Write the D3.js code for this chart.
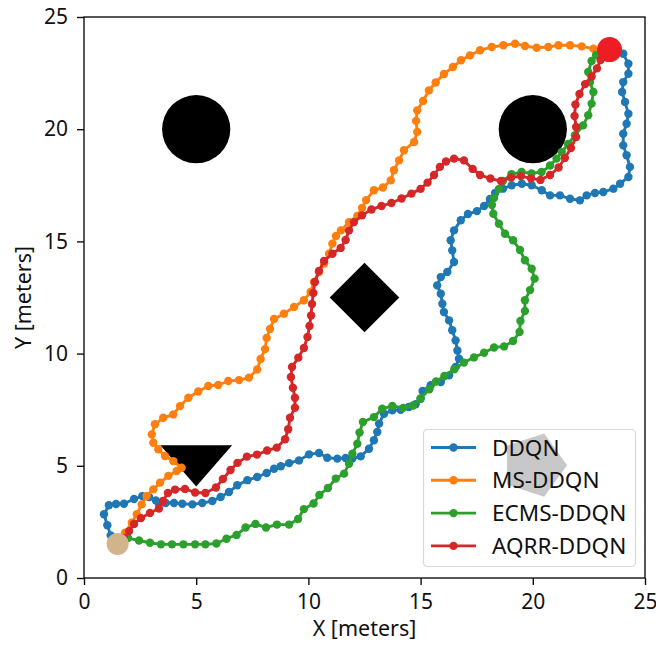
<!DOCTYPE html>
<html>
<head>
<meta charset="utf-8">
<script src="https://cdn.jsdelivr.net/npm/d3@7"></script>
<style>
  body { margin: 0; background: #fff; }
  text { font-family: "Noto Sans", sans-serif; fill: #111; }
</style>
</head>
<body>
<svg id="chart" width="656" height="646"></svg>
<script>
// series names / colours
const seriesNames = ["DDQN", "MS-DDQN", "ECMS-DDQN", "AQRR-DDQN"];
const seriesColors = ["#1f77b4", "#ff7f0e", "#2ca02c", "#d62728"];

// trajectories, [x, y] in meters
const ddqn = [
  [1.5,1.52],[1.19,1.9],[1.04,2.35],[0.89,2.84],[1.11,3.24],[1.43,3.3],[1.78,3.31],[2.23,3.52],
  [2.6,3.65],[2.9,3.61],[3.2,3.46],[3.34,3.31],[3.64,3.34],[4.01,3.34],[4.38,3.31],[4.83,3.28],
  [5.27,3.34],[5.72,3.43],[6.09,3.61],[6.46,3.83],[6.83,4.13],[7.28,4.36],[7.72,4.5],[8.14,4.68],
  [8.47,4.87],[8.77,4.98],[9.14,5.12],[9.58,5.24],[10.03,5.51],[10.47,5.57],[10.84,5.36],[11.29,5.32],
  [11.66,5.35],[11.96,5.32],[12.33,5.42],[12.7,5.76],[12.92,6.14],[13.07,6.51],[13.15,6.88],[13.37,7.32],
  [13.74,7.47],[14.11,7.5],[14.48,7.62],[14.78,7.74],[15.0,7.99],[15.09,8.33],[15.45,8.59],[15.9,8.73],
  [16.27,9.03],[16.56,9.4],[16.71,9.77],[16.64,10.14],[16.56,10.59],[16.41,11.04],[16.27,11.48],[16.04,11.85],
  [15.97,12.22],[15.9,12.67],[15.74,13.04],[15.9,13.41],[16.19,13.64],[16.49,14.08],[16.41,14.6],[16.34,15.05],
  [16.49,15.49],[16.79,15.94],[17.11,16.22],[17.51,16.35],[17.83,16.58],[18.09,16.89],[18.32,17.16],[18.67,17.35],
  [19.06,17.5],[19.51,17.57],[19.95,17.5],[20.4,17.28],[20.77,17.05],[21.21,17.05],[21.66,16.9],[22.1,16.83],
  [22.4,17.05],[22.77,17.16],[23.14,17.2],[23.59,17.35],[23.89,17.57],[24.26,17.87],[24.33,18.32],[24.18,18.84],
  [24.03,19.28],[24.03,19.8],[24.18,20.24],[24.26,20.69],[24.11,21.21],[23.98,21.66],[24.03,22.1],[24.26,22.47],
  [24.26,22.92],[24.03,23.36],[23.53,23.53]
];
const msDdqn = [
  [1.5,1.52],[1.65,1.78],[1.83,2.02],[2.13,2.46],[2.35,2.84],[2.57,3.28],[2.79,3.65],[3.09,3.95],
  [3.39,4.25],[3.76,4.55],[4.13,4.77],[4.35,4.91],[3.98,5.21],[3.61,5.44],[3.31,5.74],[3.09,6.03],
  [3.02,6.4],[3.16,6.85],[3.53,7.14],[3.98,7.29],[4.28,7.66],[4.65,8.03],[5.09,8.31],[5.54,8.56],
  [5.98,8.6],[6.43,8.78],[6.91,8.82],[7.35,8.93],[7.72,9.29],[7.87,9.76],[8.07,10.2],[8.14,10.7],
  [8.29,11.1],[8.47,11.54],[8.91,11.78],[9.36,12.08],[9.8,12.38],[10.1,12.75],[10.25,13.19],[10.47,13.64],
  [10.7,14.01],[10.92,14.45],[11.07,14.9],[11.23,15.24],[11.45,15.49],[11.81,15.86],[12.18,16.13],[12.39,16.49],
  [12.57,16.84],[12.92,17.28],[13.32,17.4],[13.67,17.72],[13.81,18.17],[14.04,18.61],[14.26,19.06],[14.71,19.43],
  [14.85,19.88],[14.8,20.37],[14.85,20.84],[15.11,21.26],[15.37,21.73],[15.67,22.08],[16.04,22.46],[16.44,22.77],
  [16.8,23.07],[17.2,23.29],[17.65,23.52],[18.17,23.66],[18.69,23.74],[19.21,23.81],[19.65,23.71],[20.17,23.63],
  [20.69,23.66],[21.14,23.74],[21.66,23.74],[22.18,23.69],[22.7,23.59],[23.13,23.53]
];
const ecmsDdqn = [
  [1.5,1.52],[1.96,1.78],[2.45,1.67],[2.94,1.57],[3.43,1.5],[3.92,1.5],[4.43,1.5],[4.95,1.5],
  [5.41,1.5],[5.9,1.54],[6.35,1.75],[6.8,1.92],[7.2,2.25],[7.64,2.41],[8.11,2.25],[8.6,2.38],
  [9.14,2.38],[9.54,2.63],[9.8,3.07],[10.23,3.32],[10.49,3.7],[10.87,4.01],[11.22,4.43],[11.59,4.65],
  [11.81,5.09],[11.96,5.54],[12.18,5.98],[12.28,6.48],[12.43,6.95],[12.92,7.17],[13.29,7.54],[13.74,7.67],
  [14.22,7.58],[14.66,7.69],[15.0,8.0],[15.39,8.41],[15.69,8.76],[16.06,9.0],[16.5,9.3],[16.93,9.6],
  [17.38,9.83],[17.83,10.04],[18.27,10.27],[18.72,10.32],[19.12,10.56],[19.41,10.96],[19.45,11.45],[19.65,11.9],
  [19.65,12.38],[19.88,12.83],[20.08,13.34],[19.95,13.78],[19.65,14.16],[19.43,14.62],[19.12,15.05],[18.76,15.34],
  [18.49,15.79],[18.24,16.23],[18.18,16.62],[18.27,16.93],[18.49,17.34],[18.67,17.69],[19.05,18.0],[19.5,18.09],
  [19.94,18.03],[20.39,18.09],[20.77,18.38],[21.06,18.69],[21.29,18.98],[21.57,19.34],[21.88,19.73],[22.24,20.17],
  [22.47,20.62],[22.62,21.14],[22.7,21.66],[22.55,22.1],[22.47,22.55],[22.62,23.04],[22.82,23.31]
];
const aqrrDdqn = [
  [1.5,1.52],[1.78,1.78],[2.01,2.09],[2.23,2.41],[2.54,2.67],[2.94,2.9],[3.34,3.1],[3.52,3.43],
  [3.74,3.79],[4.06,3.94],[4.5,3.97],[4.95,3.81],[5.41,3.79],[5.88,4.03],[6.19,4.41],[6.53,4.81],
  [6.84,5.13],[7.26,5.41],[7.71,5.5],[8.16,5.68],[8.59,5.81],[8.96,6.18],[9.1,6.63],[9.18,7.14],
  [9.4,7.59],[9.4,8.03],[9.31,8.48],[9.22,8.96],[9.27,9.4],[9.55,9.82],[9.8,10.25],[9.96,10.74],
  [10.05,11.23],[10.12,11.7],[10.16,12.21],[10.22,12.7],[10.29,13.19],[10.47,13.68],[10.7,14.13],[11.07,14.45],
  [11.44,14.71],[11.66,15.06],[11.81,15.49],[12.03,15.86],[12.39,16.16],[12.81,16.42],[13.26,16.58],[13.7,16.71],
  [14.15,16.91],[14.59,17.13],[15.0,17.34],[15.31,17.62],[15.6,17.96],[15.86,18.32],[16.13,18.56],[16.49,18.69],
  [16.93,18.61],[17.32,18.23],[17.65,17.96],[18.11,17.8],[18.58,17.69],[19.03,17.85],[19.47,17.91],[19.92,17.81],
  [20.34,17.74],[20.77,17.96],[21.15,18.29],[21.43,18.72],[21.7,19.16],[21.93,19.65],[21.93,20.1],[21.86,20.59],
  [21.9,21.1],[22.08,21.57],[22.33,22.01],[22.62,22.35],[22.86,22.71],[23.02,23.08],[23.26,23.44]
];
const trajectories = [ddqn, msDdqn, ecmsDdqn, aqrrDdqn];

// start / goal, obstacles (meters)
const startPoint = [1.5, 1.52];
const goalPoint = [23.42, 23.55];
const circleObstacles = [[5, 20, 1.52], [20, 20, 1.52]];   // cx, cy, r
const diamondObstacle = [12.5, 12.5, 1.55];                // cx, cy, half diagonal
const triangleObstacle = [5, 5, 1.6, 0.92];                // cx, cy, half width, half height
const pentagonObstacle = [20.05, 5.03, 1.48];              // cx, cy, radius

const xTicks = [0, 5, 10, 15, 20, 25];
const yTicks = [0, 5, 10, 15, 20, 25];

const svg = d3.select("#chart");
const x = d3.scaleLinear().domain([0, 25]).range([84, 645]);
const y = d3.scaleLinear().domain([0, 25]).range([578, 17]);

svg.append("defs").append("clipPath").attr("id", "plot-clip")
  .append("rect").attr("x", 84).attr("y", 17).attr("width", 561).attr("height", 561);

const plot = svg.append("g").attr("clip-path", "url(#plot-clip)");

// obstacles
plot.selectAll("circle.obs").data(circleObstacles).join("circle")
  .attr("class", "obs")
  .attr("cx", d => x(d[0])).attr("cy", d => y(d[1]))
  .attr("r", d => x(d[2]) - x(0))
  .attr("fill", "#000");

const [dx, dy, dr] = diamondObstacle;
plot.append("polygon")
  .attr("points", [[dx - dr, dy], [dx, dy + dr], [dx + dr, dy], [dx, dy - dr]]
    .map(p => x(p[0]) + "," + y(p[1])).join(" "))
  .attr("fill", "#000");

const [tx, ty, tw, th] = triangleObstacle;
plot.append("polygon")
  .attr("points", [[tx - tw, ty + th], [tx + tw, ty + th], [tx, ty - th]]
    .map(p => x(p[0]) + "," + y(p[1])).join(" "))
  .attr("fill", "#000");

// trajectories
const line = d3.line().x(d => x(d[0])).y(d => y(d[1]));
trajectories.forEach((pts, i) => {
  const g = plot.append("g");
  g.append("path").datum(pts)
    .attr("d", line)
    .attr("fill", "none")
    .attr("stroke", seriesColors[i])
    .attr("stroke-width", 2.9)
    .attr("stroke-linejoin", "round");
  g.selectAll("circle").data(pts).join("circle")
    .attr("cx", d => x(d[0])).attr("cy", d => y(d[1]))
    .attr("r", 4.2)
    .attr("fill", seriesColors[i]);
});

// start and goal
plot.append("circle")
  .attr("cx", x(startPoint[0])).attr("cy", y(startPoint[1]))
  .attr("r", 11).attr("fill", "#d2b48c");
plot.append("circle")
  .attr("cx", x(goalPoint[0])).attr("cy", y(goalPoint[1]))
  .attr("r", 12.5).attr("fill", "#ee1d23");

// frame
svg.append("rect")
  .attr("x", 84).attr("y", 17).attr("width", 561).attr("height", 561)
  .attr("fill", "none").attr("stroke", "#111").attr("stroke-width", 1.4);

// axes
const xAxis = svg.append("g").attr("transform", "translate(0,578)")
  .call(d3.axisBottom(x).tickValues(xTicks).tickSize(7).tickPadding(9).tickFormat(d3.format("d")));
const yAxis = svg.append("g").attr("transform", "translate(84,0)")
  .call(d3.axisLeft(y).tickValues(yTicks).tickSize(7).tickPadding(9).tickFormat(d3.format("d")));
[xAxis, yAxis].forEach(a => {
  a.select(".domain").remove();
  a.selectAll(".tick line").attr("stroke", "#111").attr("stroke-width", 1.4);
  a.selectAll(".tick text").attr("font-size", 21).attr("font-family", "Noto Sans").attr("fill", "#111");
});

svg.append("text")
  .attr("x", x(12.5)).attr("y", 636)
  .attr("text-anchor", "middle").attr("font-size", 21.5)
  .text("X [meters]");
svg.append("text")
  .attr("transform", `translate(31,${y(12.5)}) rotate(-90)`)
  .attr("text-anchor", "middle").attr("font-size", 21.5)
  .text("Y [meters]");

// legend
const legend = svg.append("g");
legend.append("rect")
  .attr("x", 423.5).attr("y", 429.5).attr("width", 212).attr("height", 137)
  .attr("rx", 4)
  .attr("fill", "#fff").attr("fill-opacity", 0.8)
  .attr("stroke", "#d8d8d8").attr("stroke-width", 1.2);

// grey pentagon sits behind the legend text
const [px, py, pr] = pentagonObstacle;
legend.append("polygon")
  .attr("points", d3.range(5).map(k => {
      const a = k * 2 * Math.PI / 5;
      return x(px + pr * Math.cos(a)) + "," + y(py + pr * Math.sin(a));
    }).join(" "))
  .attr("fill", "#c8c8c8");

seriesNames.forEach((name, i) => {
  const ly = 447.5 + i * 32.8;
  legend.append("line")
    .attr("x1", 431).attr("x2", 476).attr("y1", ly).attr("y2", ly)
    .attr("stroke", seriesColors[i]).attr("stroke-width", 2.9);
  legend.append("circle")
    .attr("cx", 453.5).attr("cy", ly).attr("r", 4.2)
    .attr("fill", seriesColors[i]);
  legend.append("text")
    .attr("x", 492).attr("y", ly + 8)
    .attr("font-size", 22.5)
    .text(name);
});
</script>
</body>
</html>
